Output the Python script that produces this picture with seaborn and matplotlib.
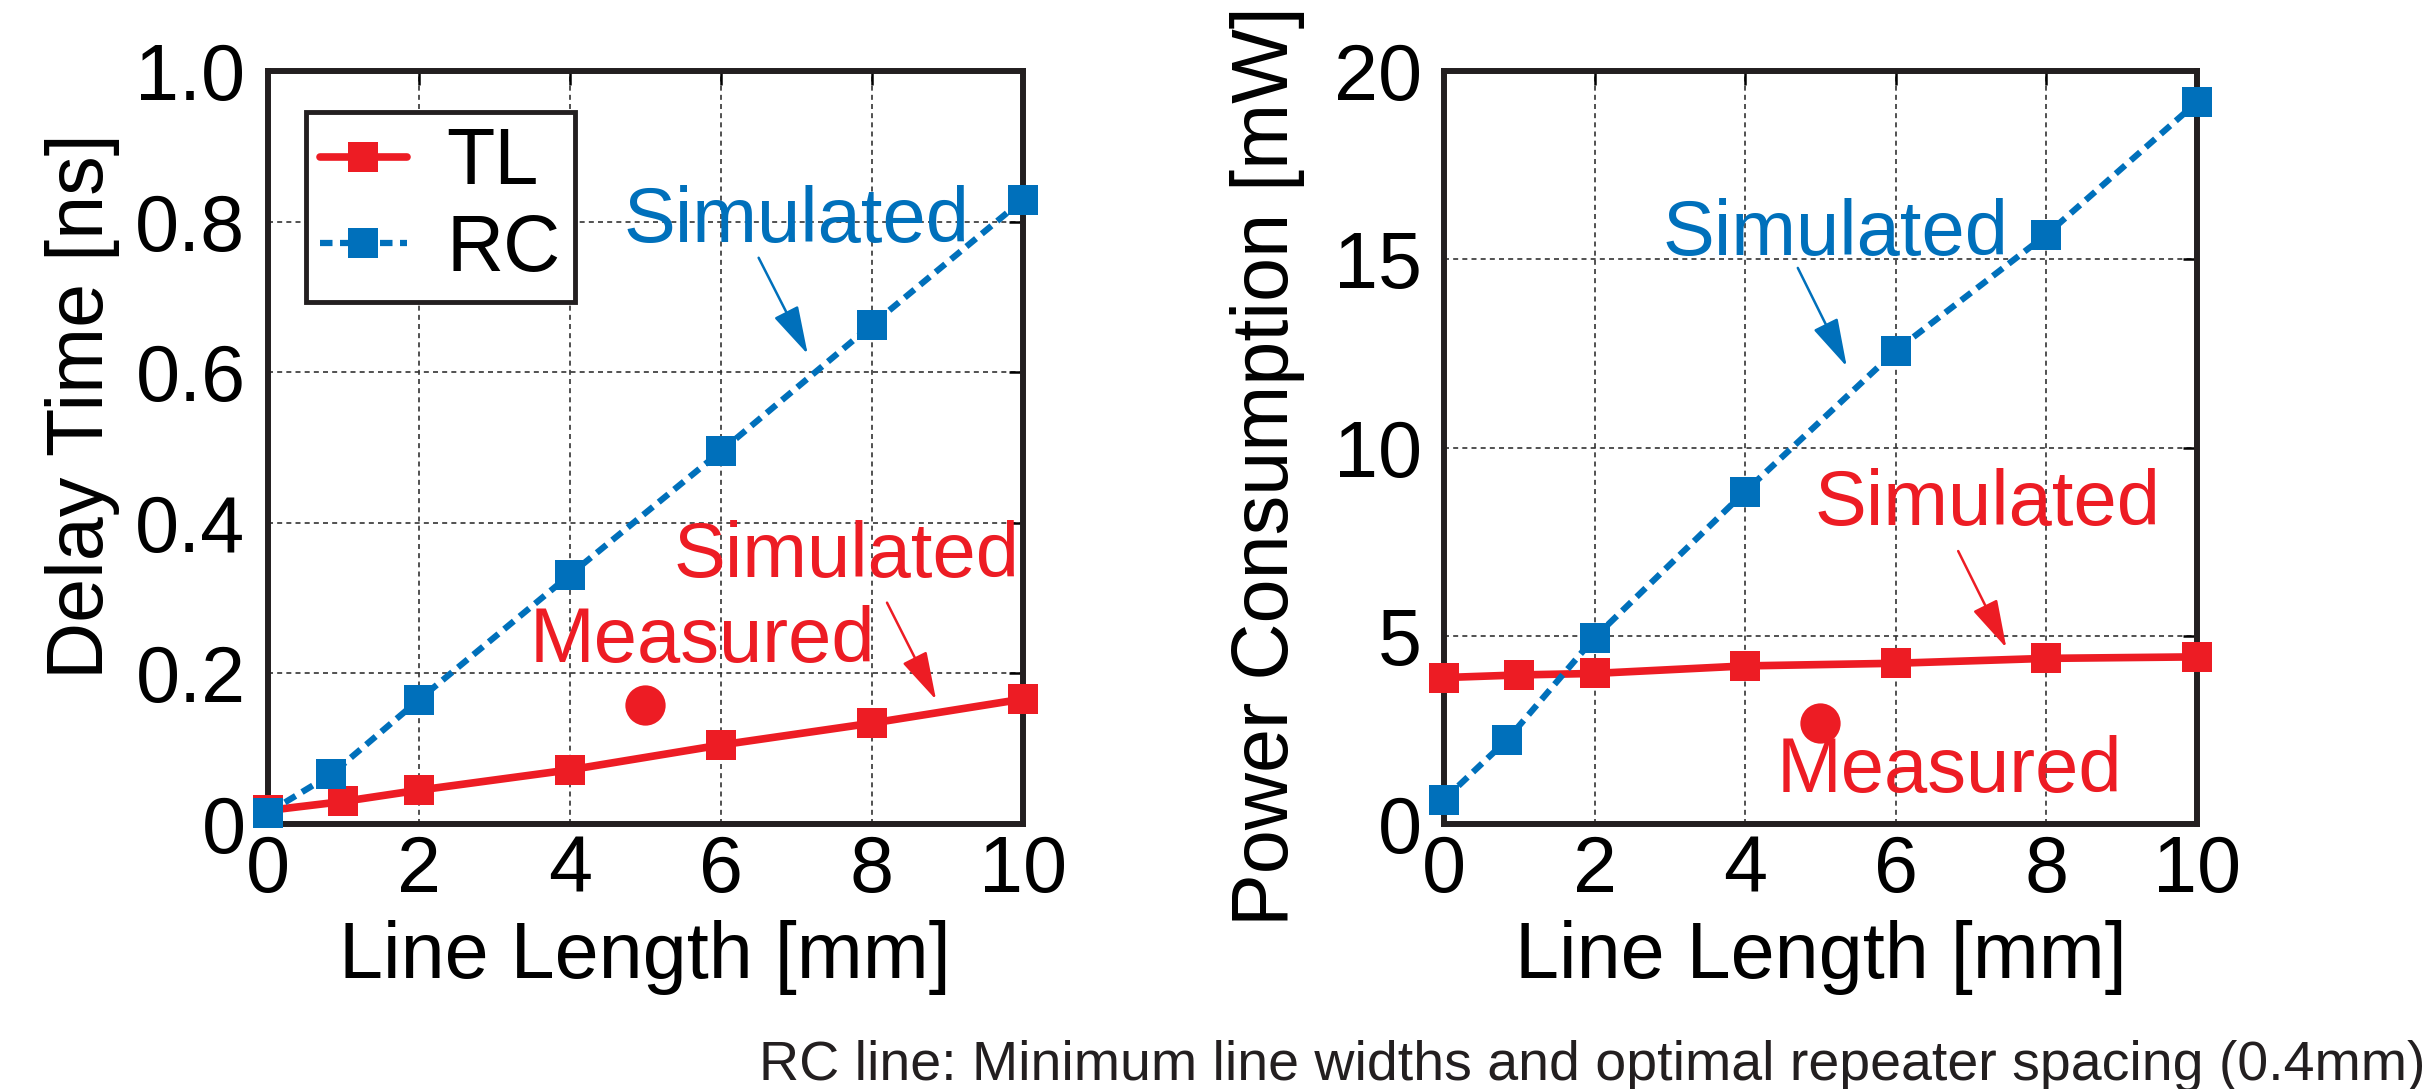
import matplotlib
matplotlib.use("Agg")
import matplotlib.pyplot as plt
import seaborn as sns

# line length [mm]
tl_length = [0, 1, 2, 4, 6, 8, 10]
rc_length = [0, 0.84, 2, 4, 6, 8, 10]

# delay time [ns]
tl_delay = [0.018, 0.030, 0.045, 0.072, 0.105, 0.134, 0.166]
rc_delay = [0.015, 0.066, 0.165, 0.331, 0.495, 0.663, 0.829]

# power consumption [mW]
tl_power = [3.89, 3.96, 4.00, 4.20, 4.27, 4.40, 4.44]
rc_power = [0.65, 2.24, 4.95, 8.83, 12.57, 15.65, 19.17]

# measured TL chip
measured_length = [5.0]
measured_delay = [0.158]
measured_power = [2.68]

x_ticks = [0, 2, 4, 6, 8, 10]
delay_ticks = [0, 0.2, 0.4, 0.6, 0.8, 1.0]
delay_tick_labels = ["0", "0.2", "0.4", "0.6", "0.8", "1.0"]
power_ticks = [0, 5, 10, 15, 20]
power_tick_labels = ["0", "5", "10", "15", "20"]

RED = "#ed1c24"
BLUE = "#0070bb"
INK = "#231f20"
FS = 57

sns.set_theme(style="white")
plt.rcParams["font.family"] = ["Liberation Sans", "DejaVu Sans"]
plt.rcParams["text.color"] = "black"
plt.rcParams["axes.labelcolor"] = "black"


def draw_panel(ax, tl_y, rc_y, meas_y):
    # TL first, RC on top (blue square covers red at x=0)
    sns.lineplot(x=tl_length, y=tl_y, ax=ax, color=RED, lw=5.5, marker="s",
                 markersize=21.5, markeredgewidth=0, label="TL", clip_on=False, zorder=3)
    sns.lineplot(x=rc_length, y=rc_y, ax=ax, color=BLUE, lw=4.5, linestyle=(0, (2, 1.2)),
                 marker="s", markersize=21.5, markeredgewidth=0, label="RC",
                 clip_on=False, zorder=4)
    sns.scatterplot(x=measured_length, y=meas_y, ax=ax, color=RED, s=29 ** 2,
                    marker="o", linewidth=0, zorder=5, clip_on=False)

    ax.set_xlim(0, 10)
    ax.set_xticks(x_ticks)
    ax.grid(True, color="#333333", lw=1.2, linestyle=(0, (3, 2.5)))
    ax.tick_params(direction="in", top=True, right=True, length=10, width=1.8,
                   labelsize=FS, colors="black")
    ax.tick_params(axis="x", pad=7)
    ax.tick_params(axis="y", pad=16)
    for s in ax.spines.values():
        s.set_linewidth(4.3)
        s.set_color(INK)
    ax.set_xlabel("Line Length [mm]", fontsize=FS, color="black")
    ax.xaxis.set_label_coords(0.5, -0.127)


def note(ax, text, xy, color):
    ax.text(xy[0], xy[1], text, color=color, fontsize=56, ha="center", va="center")


def arrow(ax, start, end, color):
    ax.annotate("", xy=end, xytext=start,
                arrowprops=dict(arrowstyle="-|>,head_length=1.0,head_width=0.28",
                                color=color, lw=1.8, mutation_scale=30,
                                shrinkA=0, shrinkB=0))


fig = plt.figure(figsize=(24.28, 10.89), dpi=100)
ax1 = fig.add_axes([0.1103, 0.2433, 0.3110, 0.6915])
ax2 = fig.add_axes([0.5947, 0.2433, 0.3101, 0.6915])

# Delay
draw_panel(ax1, tl_delay, rc_delay, measured_delay)
ax1.set_ylim(0, 1.0)
ax1.set_yticks(delay_ticks)
ax1.set_yticklabels(delay_tick_labels)
ax1.set_ylabel("Delay Time [ns]", fontsize=FS, color="black")
ax1.yaxis.set_label_coords(-0.196, 0.555)

note(ax1, "Simulated", (7.0, 0.80), BLUE)
arrow(ax1, (6.50, 0.752), (7.15, 0.624), BLUE)
note(ax1, "Simulated", (7.66, 0.355), RED)
arrow(ax1, (8.20, 0.294), (8.85, 0.165), RED)
note(ax1, "Measured", (5.76, 0.242), RED)

h, l = ax1.get_legend_handles_labels()
keep = [(hh, ll) for hh, ll in zip(h, l) if ll in ("TL", "RC")]
leg = ax1.legend([k[0] for k in keep], [k[1] for k in keep], loc="upper left",
                 bbox_to_anchor=(0.05, 0.9455), borderaxespad=0, fontsize=FS,
                 frameon=True, fancybox=False, framealpha=1, edgecolor=INK,
                 borderpad=0.18, labelspacing=0.15, handlelength=1.1,
                 handletextpad=0.5)
leg.get_frame().set_linewidth(3.5)
for t in leg.get_texts():
    t.set_color("black")

# Power
draw_panel(ax2, tl_power, rc_power, measured_power)
if ax2.get_legend() is not None:
    ax2.get_legend().remove()
ax2.set_ylim(0, 20)
ax2.set_yticks(power_ticks)
ax2.set_yticklabels(power_tick_labels)
ax2.set_ylabel("Power Consumption [mW]", fontsize=FS, color="black")
ax2.yaxis.set_label_coords(-0.185, 0.475)

note(ax2, "Simulated", (5.2, 15.65), BLUE)
arrow(ax2, (4.70, 14.77), (5.35, 12.15), BLUE)
note(ax2, "Simulated", (7.22, 8.5), RED)
arrow(ax2, (6.83, 7.25), (7.47, 4.68), RED)
note(ax2, "Measured", (6.72, 1.40), RED)

fig.text(0.9988, 0.008, "RC line: Minimum line widths and optimal repeater spacing (0.4mm)",
         ha="right", va="baseline", fontsize=40, color=INK)

fig.savefig("out.png", dpi=100)
